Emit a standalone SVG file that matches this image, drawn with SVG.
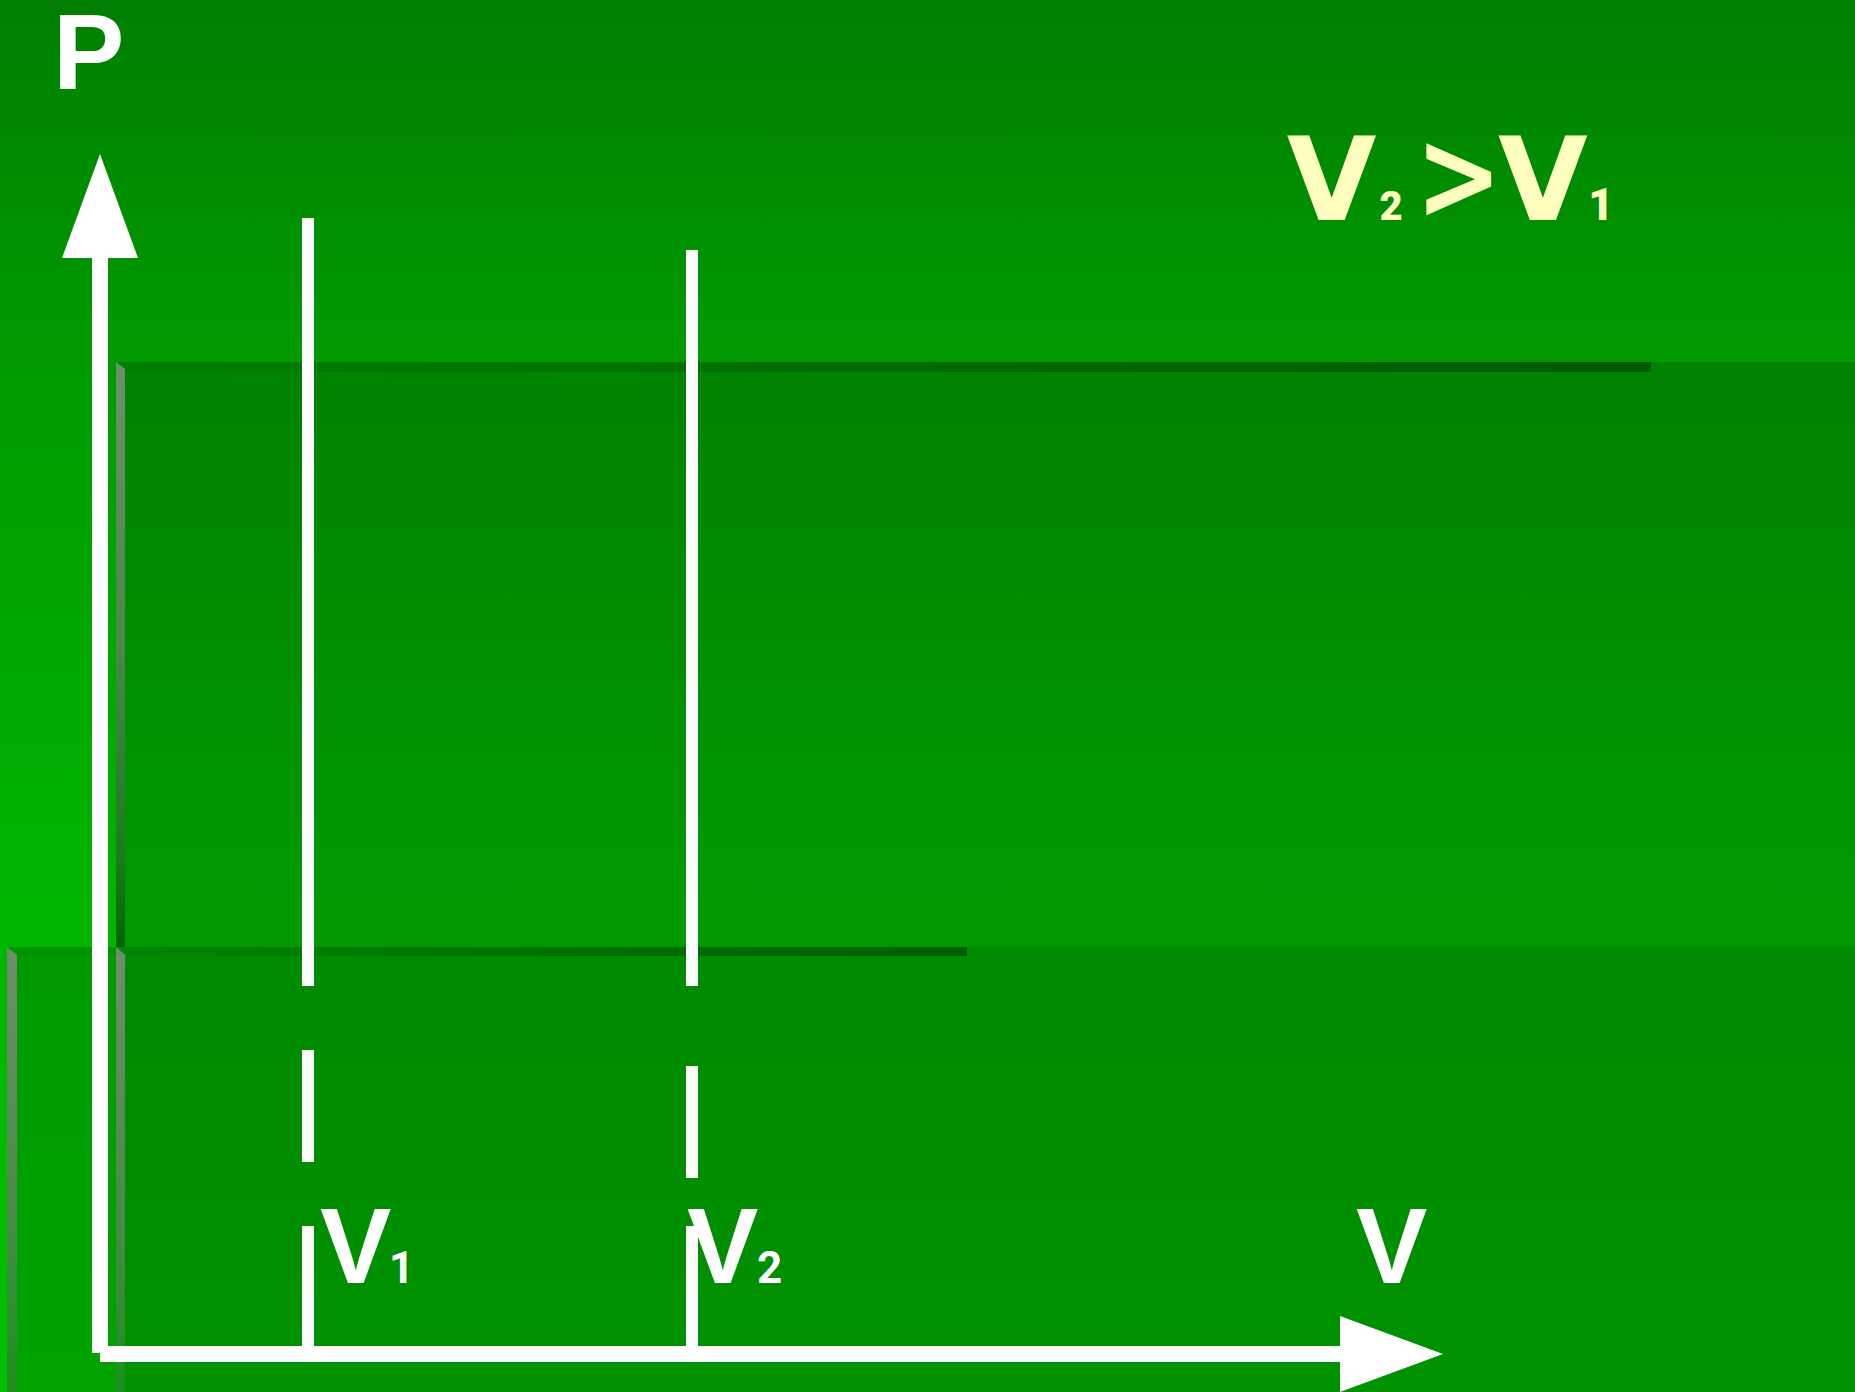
<svg xmlns="http://www.w3.org/2000/svg" width="1855" height="1392" viewBox="0 0 1855 1392">
  <defs>
    <linearGradient id="bg" x1="0" y1="0" x2="0" y2="1392" gradientUnits="userSpaceOnUse">
      <stop offset="0" stop-color="#007f00"/>
      <stop offset="0.26" stop-color="#009a00"/>
      <stop offset="0.66" stop-color="#00b500"/>
      <stop offset="1" stop-color="#00c000"/>
    </linearGradient>
    <linearGradient id="strip" x1="0" y1="0" x2="1" y2="0">
      <stop offset="0" stop-color="#000" stop-opacity="0.04"/>
      <stop offset="1" stop-color="#000" stop-opacity="0.32"/>
    </linearGradient>
    <linearGradient id="bevel1" x1="0" y1="0" x2="0" y2="1">
      <stop offset="0" stop-color="#6f8f6f"/>
      <stop offset="0.5" stop-color="#4a864a"/>
      <stop offset="0.85" stop-color="#1c7a1c"/>
      <stop offset="1" stop-color="#006600"/>
    </linearGradient>
    <linearGradient id="bevel2" x1="0" y1="0" x2="0" y2="1">
      <stop offset="0" stop-color="#708c70"/>
      <stop offset="0.6" stop-color="#4a8a4a"/>
      <stop offset="1" stop-color="#1c901c"/>
    </linearGradient>
    <style>
      .shade { fill: #000; }
      .ax { fill: #fff; }
      .lbl { font-family: 'Liberation Sans', Arial, sans-serif; font-weight: 700; fill: #fff; }
      .sub { font-family: Roboto, 'Liberation Sans', sans-serif; font-weight: 700; fill: #fff; }
      .cmp { font-family: 'DejaVu Sans', sans-serif; font-weight: 700; fill: #ffffc0; }
      .cmpsub { font-family: Roboto, 'DejaVu Sans', sans-serif; font-weight: 900; fill: #ffffc0; }
    </style>
  </defs>

  <g id="background">
    <rect x="0" y="0" width="1855" height="1392" fill="url(#bg)"/>
  </g>

  <g id="panels">
    <g id="panel-upper">
      <rect class="shade" x="116" y="362" width="1739" height="585" opacity="0.15"/>
      <rect x="125" y="362" width="1526" height="10" fill="url(#strip)"/>
      <polygon points="116,362 125,369 125,947 116,947" fill="url(#bevel1)"/>
    </g>
    <g id="panel-lower-left">
      <rect class="shade" x="7" y="947" width="1848" height="445" opacity="0.15"/>
      <rect class="shade" x="17" y="947" width="99" height="8" opacity="0.04"/>
      <polygon points="7,947 17,955 17,1392 7,1392" fill="url(#bevel2)"/>
    </g>
    <g id="panel-lower">
      <rect class="shade" x="116" y="947" width="1739" height="445" opacity="0.1"/>
      <rect x="125" y="947" width="842" height="9" fill="url(#strip)"/>
      <polygon points="116,947 125,955 125,1392 116,1392" fill="url(#bevel2)"/>
    </g>
  </g>

  <g id="connectors">
    <g id="p-axis">
      <rect class="ax" x="92" y="257" width="16" height="1096"/>
      <polygon class="ax" points="100,154 62,258 138,258"/>
    </g>
    <g id="v-axis">
      <rect class="ax" x="100" y="1346" width="1241" height="16"/>
      <polygon class="ax" points="1340,1316 1443,1354 1340,1392"/>
    </g>
    <g id="line-v1">
      <rect class="ax" x="302" y="218" width="12" height="768"/>
      <rect class="ax" x="302" y="1050" width="12" height="112"/>
      <rect class="ax" x="302" y="1226" width="12" height="120"/>
    </g>
    <g id="line-v2">
      <rect class="ax" x="686" y="250" width="12" height="736"/>
      <rect class="ax" x="686" y="1066" width="12" height="112"/>
      <rect class="ax" x="686" y="1226" width="12" height="120"/>
    </g>
  </g>

  <g id="label-p">
    <text class="lbl" x="53" y="89" font-size="107">P</text>
  </g>
  <g id="label-v">
    <text class="lbl" x="1356" y="1283" font-size="107">V</text>
  </g>
  <g id="label-v1">
    <text class="lbl" x="320" y="1283" font-size="107">V</text>
    <text class="sub" x="389" y="1283" font-size="44">1</text>
  </g>
  <g id="label-v2">
    <text class="lbl" x="687" y="1283" font-size="107">V</text>
    <text class="sub" x="757" y="1283" font-size="44">2</text>
  </g>
  <g id="label-compare">
    <text class="cmp" x="1331.7" y="220" font-size="116" text-anchor="middle">V</text>
    <text class="cmpsub" x="1391" y="220" font-size="40" text-anchor="middle">2</text>
    <text class="cmp" x="1458.7" y="219" font-size="126" text-anchor="middle" transform="translate(1458.7 0) scale(0.82 1) translate(-1458.7 0)">&gt;</text>
    <text class="cmp" x="1543" y="220" font-size="116" text-anchor="middle">V</text>
    <text class="cmpsub" x="1601" y="220" font-size="44" text-anchor="middle">1</text>
  </g>
</svg>
